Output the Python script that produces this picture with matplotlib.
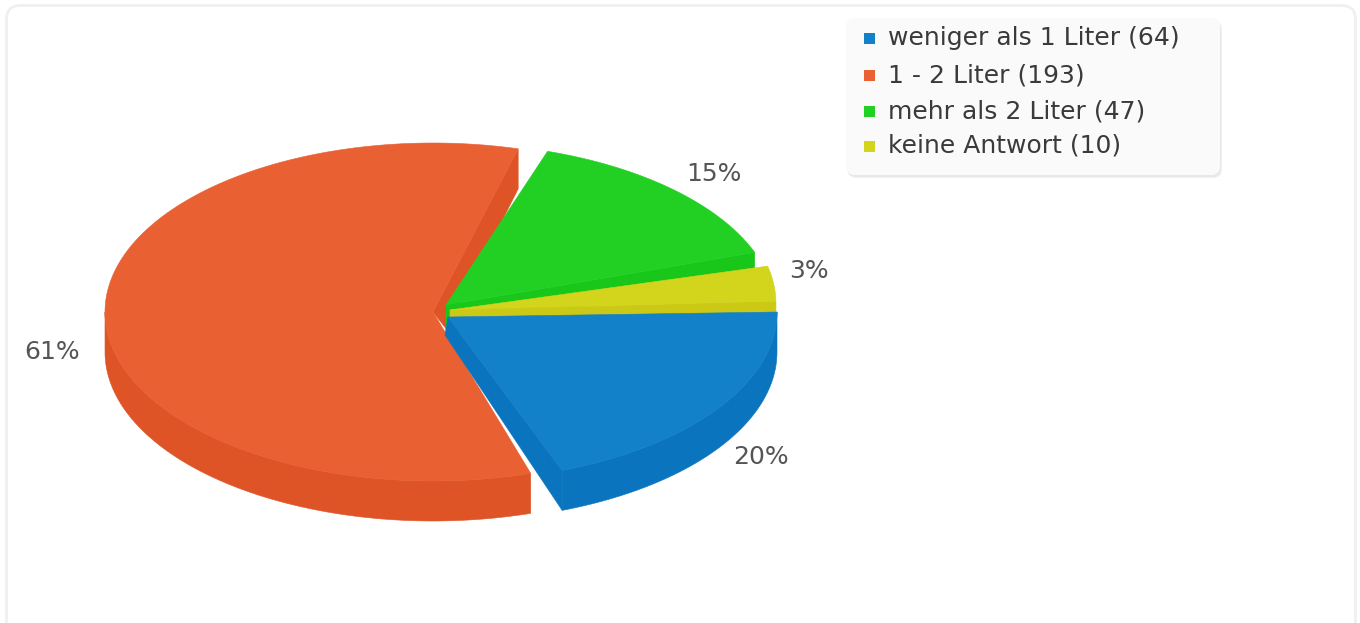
import numpy as np
import matplotlib
matplotlib.use("Agg")
import matplotlib.pyplot as plt
from matplotlib.patches import FancyBboxPatch, Polygon, Rectangle

categories = ["weniger als 1 Liter", "1 - 2 Liter", "mehr als 2 Liter", "keine Antwort"]
values = [64, 193, 47, 10]
percent_labels = ["20%", "61%", "15%", "3%"]

top_colors = ["#1380CA", "#E96033", "#22D024", "#D3D41C"]
wall_colors = ["#0A75BE", "#DE5426", "#19C61A", "#CBC915"]

# styling: projection of each exploded slice (pixels of the 1360x623 canvas)
arc_center = [(447, 312), (433, 312), (445, 312), (450, 304)]
apex = [(448, 317), (433, 312), (446, 305), (450, 310)]
radius_x = [330, 328, 331, 326]
radius_y = 169
depth = 40
start_nudge = [0.0, -0.7, -6.6, -1.5]
end_nudge = [-3.8, -9.6, -9.2, -1.0]
label_pos = [(761, 457), (52, 352), (714, 174), (809, 271)]
legend_y = [38, 75, 111, 146]

W, H = 1360, 623
fig = plt.figure(figsize=(W / 100, H / 100), dpi=100, facecolor="white")
ax = fig.add_axes([0, 0, 1, 1])
ax.set_xlim(0, W)
ax.set_ylim(H, 0)
ax.axis("off")
plt.rcParams["font.family"] = "DejaVu Sans"

ax.add_patch(FancyBboxPatch((6.5, 5.5), 1349, 630, boxstyle="round,pad=0,rounding_size=14",
                            fc="white", ec="#F0F0F0", lw=2.0, zorder=0))

vals = np.array(values, dtype=float)
bounds = np.concatenate([[0], np.cumsum(vals) / vals.sum() * 360])
starts = bounds[:-1] + np.array(start_nudge)
ends = bounds[1:] + np.array(end_nudge)


def arc(i, a, b, n=200):
    t = np.radians(np.linspace(a, b, n))
    cx, cy = arc_center[i]
    return np.column_stack([cx + radius_x[i] * np.cos(t), cy + radius_y * np.sin(t)])


def poly(pts, color, z):
    ax.add_patch(Polygon(pts, closed=True, fc=color, ec=color, lw=0.4, zorder=z, joinstyle="round"))


def edge_wall(i, p, apex_shift, end_depth, z):
    a = np.array(apex[i], float)
    poly([a, p, p + [0, end_depth], a + apex_shift], wall_colors[i], z)


def outer_wall(i, a, b, z):
    pts = arc(i, a, b)
    poly(np.vstack([pts, (pts + [0, depth])[::-1]]), wall_colors[i], z)


def top(i, z):
    poly(np.vstack([[apex[i]], arc(i, starts[i], ends[i])]), top_colors[i], z)


# orange
outer_wall(1, starts[1], 180, 2)
edge_wall(1, arc(1, ends[1], ends[1], 1)[0], [14, 18], depth, 2)
top(1, 3)
# green
edge_wall(2, arc(2, ends[2], ends[2], 1)[0], [0, 30], 20, 4)
top(2, 5)
# yellow
edge_wall(3, arc(3, ends[3], ends[3], 1)[0], [0, 14], 14, 6)
top(3, 7)
# blue
outer_wall(0, starts[0], ends[0], 8)
edge_wall(0, arc(0, ends[0], ends[0], 1)[0], [-3, 18], depth, 8)
top(0, 9)

for lab, (x, y) in zip(percent_labels, label_pos):
    ax.text(x, y, lab, color="#555555", fontsize=18, ha="center", va="center", zorder=12)

# legend box with soft shadow
for off, col in [(3, "#F0F0F0"), (2, "#E8E8E8")]:
    ax.add_patch(FancyBboxPatch((846 + off - 1, 18 + off), 374, 157, boxstyle="round,pad=0,rounding_size=9",
                                fc=col, ec="none", zorder=10))
ax.add_patch(FancyBboxPatch((846, 18), 374, 157, boxstyle="round,pad=0,rounding_size=9",
                            fc="#FAFAFA", ec="none", zorder=11))
for cat, v, c, y in zip(categories, values, top_colors, legend_y):
    ax.add_patch(Rectangle((864, y - 5), 10.5, 10.5, fc=c, ec="none", zorder=12))
    ax.text(888, y, f"{cat} ({v})", color="#3A3A3A", fontsize=18, ha="left", va="center", zorder=12)

fig.savefig("out.png", dpi=100, facecolor="white")
